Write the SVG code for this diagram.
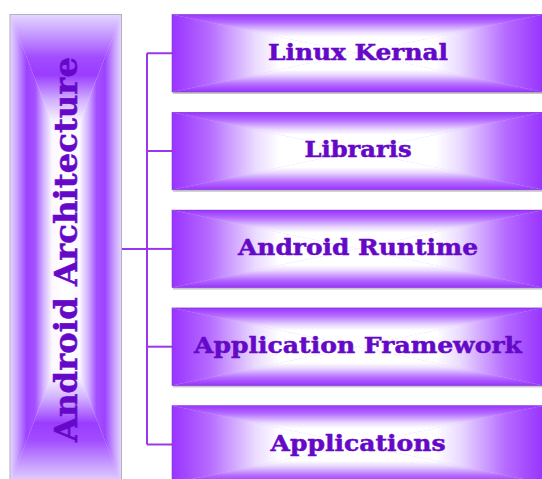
<svg xmlns="http://www.w3.org/2000/svg" xmlns:xlink="http://www.w3.org/1999/xlink" width="542" height="479" viewBox="0 0 542 479">
<style>
.lbl{font-family:"DejaVu Serif","Liberation Serif",serif;font-weight:bold;fill:#6508c8;stroke:#6508c8;stroke-width:0.5;text-anchor:middle}
.rl{font-size:22px}
.conn{stroke:#9a36f0;stroke-width:2;fill:none}
.shadow{fill:#9a9a9a;opacity:0.55}
</style>
<defs>
<linearGradient id="rgL" x1="0" y1="0" x2="1" y2="0"><stop offset="0" stop-color="#9933ff"/><stop offset="0.2" stop-color="#b56bff"/><stop offset="0.45" stop-color="#eadbff"/><stop offset="0.58" stop-color="#ffffff"/><stop offset="1" stop-color="#ffffff"/></linearGradient>
<linearGradient id="rgR" x1="1" y1="0" x2="0" y2="0"><stop offset="0" stop-color="#9933ff"/><stop offset="0.2" stop-color="#b56bff"/><stop offset="0.45" stop-color="#eadbff"/><stop offset="0.58" stop-color="#ffffff"/><stop offset="1" stop-color="#ffffff"/></linearGradient>
<linearGradient id="rgT" x1="0" y1="0" x2="0" y2="1"><stop offset="0" stop-color="#9933ff"/><stop offset="0.2" stop-color="#b56bff"/><stop offset="0.45" stop-color="#eadbff"/><stop offset="0.58" stop-color="#ffffff"/><stop offset="1" stop-color="#ffffff"/></linearGradient>
<linearGradient id="rgB" x1="0" y1="1" x2="0" y2="0"><stop offset="0" stop-color="#9933ff"/><stop offset="0.2" stop-color="#b56bff"/><stop offset="0.45" stop-color="#eadbff"/><stop offset="0.58" stop-color="#ffffff"/><stop offset="1" stop-color="#ffffff"/></linearGradient>
<linearGradient id="lgL" x1="0" y1="0" x2="1" y2="0"><stop offset="0" stop-color="#e4d6ff"/><stop offset="0.12" stop-color="#caa4ff"/><stop offset="0.3" stop-color="#9d42ff"/><stop offset="0.45" stop-color="#a450ff"/><stop offset="0.6" stop-color="#d2b2ff"/><stop offset="0.75" stop-color="#fbf8ff"/><stop offset="1" stop-color="#ffffff"/></linearGradient>
<linearGradient id="lgR" x1="1" y1="0" x2="0" y2="0"><stop offset="0" stop-color="#e4d6ff"/><stop offset="0.12" stop-color="#caa4ff"/><stop offset="0.3" stop-color="#9d42ff"/><stop offset="0.45" stop-color="#a450ff"/><stop offset="0.6" stop-color="#d2b2ff"/><stop offset="0.75" stop-color="#fbf8ff"/><stop offset="1" stop-color="#ffffff"/></linearGradient>
<linearGradient id="lgT" x1="0" y1="0" x2="0" y2="1"><stop offset="0" stop-color="#e4d6ff"/><stop offset="0.12" stop-color="#caa4ff"/><stop offset="0.3" stop-color="#a24cff"/><stop offset="0.42" stop-color="#9a3cff"/><stop offset="0.6" stop-color="#d2b2ff"/><stop offset="0.75" stop-color="#fbf8ff"/><stop offset="1" stop-color="#ffffff"/></linearGradient>
<linearGradient id="lgB" x1="0" y1="1" x2="0" y2="0"><stop offset="0" stop-color="#e4d6ff"/><stop offset="0.12" stop-color="#caa4ff"/><stop offset="0.3" stop-color="#a24cff"/><stop offset="0.42" stop-color="#9a3cff"/><stop offset="0.6" stop-color="#d2b2ff"/><stop offset="0.75" stop-color="#fbf8ff"/><stop offset="1" stop-color="#ffffff"/></linearGradient>
<g id="rbox">
<rect x="1" y="2" width="371" height="77.5" class="shadow"/>
<rect x="0" y="0" width="371" height="77.5" fill="#d7b8ff"/>
<polygon points="0,0 0,77.5 185.5,38.75" fill="url(#rgL)"/>
<polygon points="371,0 371,77.5 185.5,38.75" fill="url(#rgR)"/>
<polygon points="0,0 371,0 185.5,38.75" fill="url(#rgT)"/>
<polygon points="0,77.5 371,77.5 185.5,38.75" fill="url(#rgB)"/>
<rect x="0" y="0" width="371" height="77.5" fill="none" stroke="#8040c8" stroke-width="0.6"/>
</g>
</defs>
<g id="connectors">
<line class="conn" x1="147" y1="53.25" x2="147" y2="444.5"/>
<line class="conn" x1="121.5" y1="249" x2="147" y2="249"/>
<line class="conn" x1="147" y1="53.25" x2="172" y2="53.25"/>
<line class="conn" x1="147" y1="151" x2="172" y2="151"/>
<line class="conn" x1="147" y1="248.9" x2="172" y2="248.9"/>
<line class="conn" x1="147" y1="346.7" x2="172" y2="346.7"/>
<line class="conn" x1="147" y1="444.5" x2="172" y2="444.5"/>
</g>
<g id="node-android-architecture">
<rect x="10" y="14.5" width="111.5" height="469" fill="#f0e6ff"/>
<polygon points="10,14.5 65.75,158 65.75,340 10,483.5" fill="url(#lgL)"/>
<polygon points="121.5,14.5 65.75,158 65.75,340 121.5,483.5" fill="url(#lgR)"/>
<polygon points="10,14.5 121.5,14.5 65.75,158" fill="url(#lgT)"/>
<polygon points="10,483.5 121.5,483.5 65.75,340" fill="url(#lgB)"/>
<rect x="10" y="14.5" width="111.5" height="469" fill="none" stroke="#b4b0bc" stroke-width="1"/>
<text class="lbl" font-size="32" transform="translate(77,249.5) rotate(-90)" x="0" y="0" textLength="385" lengthAdjust="spacingAndGlyphs">Android Architecture</text>
</g>
<g id="node-linux-kernal" transform="translate(172,14.5)">
<use xlink:href="#rbox"/>
<text class="lbl rl" x="186" y="45" textLength="180" lengthAdjust="spacingAndGlyphs">Linux Kernal</text>
</g>
<g id="node-libraris" transform="translate(172,112.3)">
<use xlink:href="#rbox"/>
<text class="lbl rl" x="186" y="45" textLength="107" lengthAdjust="spacingAndGlyphs">Libraris</text>
</g>
<g id="node-android-runtime" transform="translate(172,210.1)">
<use xlink:href="#rbox"/>
<text class="lbl rl" x="186" y="45" textLength="240" lengthAdjust="spacingAndGlyphs">Android Runtime</text>
</g>
<g id="node-application-framework" transform="translate(172,307.9)">
<use xlink:href="#rbox"/>
<text class="lbl rl" x="186" y="45" textLength="328" lengthAdjust="spacingAndGlyphs">Application Framework</text>
</g>
<g id="node-applications" transform="translate(172,405.7)">
<use xlink:href="#rbox"/>
<text class="lbl rl" x="186" y="45" textLength="175" lengthAdjust="spacingAndGlyphs">Applications</text>
</g>
</svg>
